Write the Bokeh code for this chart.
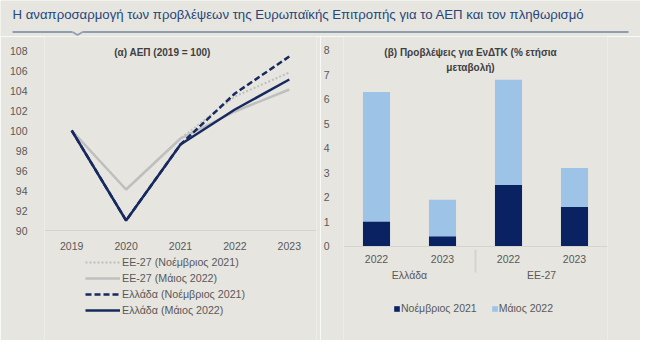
from bokeh.plotting import figure
from bokeh.models import (Range1d, FactorRange, Legend, LegendItem, Label)
from bokeh.layouts import column, row
from bokeh.embed import file_html
from bokeh.resources import INLINE

# ---------------- data ----------------
years = ["2019", "2020", "2021", "2022", "2023"]
eu_nov21 = [100, 94.1, 99.2, 103.4, 105.8]
eu_may22 = [100, 94.1, 99.2, 101.9, 104.1]
gr_nov21 = [100, 91.0, 98.6, 103.7, 107.4]
gr_may22 = [100, 91.0, 98.6, 102.1, 105.1]
line_labels = ["ΕΕ-27 (Νοέμβριος 2021)", "ΕΕ-27 (Μάιος 2022)",
               "Ελλάδα (Νοέμβριος 2021)", "Ελλάδα (Μάιος 2022)"]
gdp_ticks = [90, 92, 94, 96, 98, 100, 102, 104, 106, 108]

bar_groups = ["Ελλάδα", "ΕΕ-27"]
bar_years = ["2022", "2023"]
hicp_nov21 = [1.0, 0.4, 2.5, 1.6]
hicp_may22 = [6.3, 1.9, 6.8, 3.2]
bar_labels = ["Νοέμβριος 2021", "Μάιος 2022"]
hicp_ticks = [0, 1, 2, 3, 4, 5, 6, 7, 8]

header_text = "Η αναπροσαρμογή των προβλέψεων της Ευρωπαϊκής Επιτροπής για το ΑΕΠ και τον πληθωρισμό"
title_a = "(α) ΑΕΠ (2019 = 100)"
title_b1 = "(β) Προβλέψεις για ΕνΔΤΚ (% ετήσια"
title_b2 = "μεταβολή)"

BG = "#e6e5e0"
NAVY_L = "#172a5f"
NAVY_B = "#0b2262"
LBLUE = "#9dc3e6"
GRAY = "#bfbfbf"
TXT = "#595959"
AXIS = "#d4d3ce"
FONT = "Liberation Sans"

# ---------------- header ----------------
h = figure(width=640, height=36, x_range=Range1d(0, 640), y_range=Range1d(36, 0),
           output_backend="svg", toolbar_location=None, min_border=0)
h.axis.visible = False
h.grid.visible = False
h.outline_line_color = None
h.background_fill_color = BG
h.border_fill_color = BG
h.add_layout(Label(x=12, y=14, text=header_text, text_font=FONT,
                   text_font_size="13.2px", text_color="#27467a",
                   text_baseline="middle", text_align="left"))
h.line([12, 72], [31.5, 31.5], line_color="#8d9db2", line_width=2)
h.line([82, 628], [31.5, 31.5], line_color="#8d9db2", line_width=2)
h.line([72, 77, 82], [31.5, 34.5, 31.5], line_color="#8d9db2", line_width=1.5)


def style(fig):
    fig.background_fill_color = BG
    fig.border_fill_color = BG
    fig.outline_line_color = None
    fig.grid.visible = False
    fig.yaxis.axis_line_color = None
    fig.yaxis.major_tick_line_color = None
    fig.yaxis.minor_tick_line_color = None
    fig.xaxis.axis_line_color = AXIS
    fig.xaxis.major_tick_line_color = None
    for ax in (fig.xaxis, fig.yaxis):
        ax.major_label_text_font = FONT
        ax.major_label_text_font_size = "10.5px"
        ax.major_label_text_color = TXT


# ---------------- left chart ----------------
p = figure(width=320, height=304, x_range=FactorRange(*years, range_padding=0),
           y_range=Range1d(79.0, 109.4), output_backend="svg", toolbar_location=None,
           min_border_left=44, min_border_right=4, min_border_top=0, min_border_bottom=0)
style(p)
p.yaxis.ticker = gdp_ticks
p.yaxis.major_label_standoff = 11
p.xaxis.fixed_location = gdp_ticks[0]
p.xaxis.major_label_standoff = 5

r1 = p.line(years, eu_nov21, line_color=GRAY, line_width=2, line_dash="2 2")
r2 = p.line(years, eu_may22, line_color=GRAY, line_width=2.5)
r3 = p.line(years, gr_nov21, line_color=NAVY_L, line_width=2.5, line_dash="6 3")
r4 = p.line(years, gr_may22, line_color=NAVY_L, line_width=2.5)

leg = Legend(items=[LegendItem(label=l, renderers=[r]) for l, r in zip(line_labels, [r1, r2, r3, r4])],
             location=(41, 24), orientation="vertical", glyph_width=35, glyph_height=12,
             label_height=12, spacing=4, padding=0, margin=0, label_standoff=2,
             background_fill_alpha=0, border_line_color=None,
             label_text_font=FONT, label_text_font_size="10.7px", label_text_color=TXT)
p.add_layout(leg)
p.add_layout(Label(x=118, y=288, x_units="screen", y_units="screen", text=title_a,
                   text_font=FONT, text_font_size="10px", text_font_style="bold",
                   text_color="#404040", text_align="center", text_baseline="middle"))

# ---------------- right chart ----------------
factors = [(g, y) for g in bar_groups for y in bar_years]
q = figure(width=320, height=304, x_range=FactorRange(*factors, range_padding=0,
                                                      group_padding=0, factor_padding=0),
           y_range=Range1d(-3.855, 8.572), output_backend="svg", toolbar_location=None,
           min_border_left=22, min_border_right=33, min_border_top=0, min_border_bottom=0)
style(q)
q.yaxis.ticker = hicp_ticks
q.yaxis.major_label_standoff = 8
q.xaxis.fixed_location = hicp_ticks[0]
q.xaxis.major_label_standoff = 3
q.xaxis.separator_line_color = AXIS
q.xaxis.group_text_font = FONT
q.xaxis.group_text_font_size = "10.5px"
q.xaxis.group_text_color = TXT
q.xaxis.group_text_font_style = "normal"

b2 = q.vbar(x=factors, top=hicp_may22, width=0.41, fill_color=LBLUE, line_color=None)
b1 = q.vbar(x=factors, top=hicp_nov21, width=0.41, fill_color=NAVY_B, line_color=None)
leg2 = Legend(items=[LegendItem(label=bar_labels[0], renderers=[b1]),
                     LegendItem(label=bar_labels[1], renderers=[b2])],
              location=(50, 26), orientation="horizontal", glyph_width=7, glyph_height=7,
              label_height=12, spacing=14, padding=0, margin=0, label_standoff=1,
              background_fill_alpha=0, border_line_color=None,
              label_text_font=FONT, label_text_font_size="10.5px", label_text_color=TXT)
q.add_layout(leg2)
q.add_layout(Label(x=127, y=288, x_units="screen", y_units="screen", text=title_b1,
                   text_font=FONT, text_font_size="10px", text_font_style="bold",
                   text_color="#404040", text_align="center", text_baseline="middle"))
q.add_layout(Label(x=127, y=273, x_units="screen", y_units="screen", text=title_b2,
                   text_font=FONT, text_font_size="10px", text_font_style="bold",
                   text_color="#404040", text_align="center", text_baseline="middle"))

layout = column(h, row(p, q, spacing=0), spacing=0)
open("out.html", "w").write(file_html(layout, INLINE))
